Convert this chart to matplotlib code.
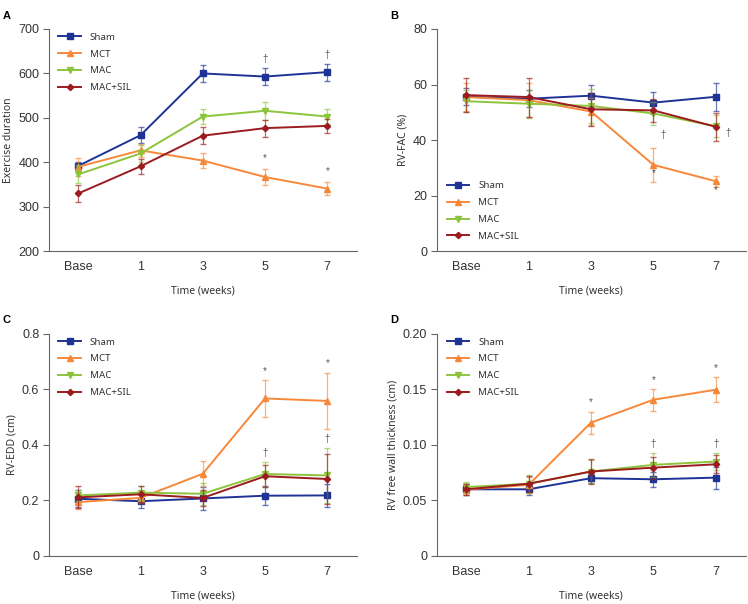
import numpy as np
import matplotlib.pyplot as plt

plt.rcParams['font.family'] = ['Liberation Sans', 'DejaVu Sans']

times = ['Base', '1', '3', '5', '7']
groups = ['Sham', 'MCT', 'MAC', 'MAC+SIL']
colors = ['#1f3396', '#f7883a', '#8cc43c', '#9b1b1e']
markers = ['s', '^', 'v', 'D']
msizes = [5, 5, 5, 3.2]

# panel A: exercise duration
ex_mean = [[392, 461, 600, 593, 603],
           [390, 427, 404, 367, 341],
           [373, 420, 503, 516, 503],
           [330, 391, 460, 477, 482]]
ex_err = [[8, 18, 20, 19, 19],
          [20, 15, 17, 18, 15],
          [20, 20, 17, 20, 17],
          [20, 17, 19, 19, 16]]

# panel B: RV-FAC
fac_mean = [[55.6, 54.9, 56.0, 53.5, 55.6],
            [55.5, 54.4, 50.3, 31.1, 25.2],
            [54.0, 53.1, 52.3, 49.6, 45.0],
            [56.2, 55.5, 51.1, 50.7, 44.8]]
fac_err = [[3, 3, 4, 4, 5],
           [5, 6, 5, 6, 2],
           [4, 5, 6, 4, 4],
           [6, 7, 6, 4, 5]]

# panel C: RV-EDD
edd_mean = [[0.206, 0.197, 0.207, 0.217, 0.218],
            [0.194, 0.209, 0.296, 0.567, 0.558],
            [0.218, 0.228, 0.224, 0.295, 0.290],
            [0.211, 0.222, 0.209, 0.287, 0.277]]
edd_err = [[0.03, 0.025, 0.04, 0.035, 0.04],
           [0.025, 0.02, 0.045, 0.065, 0.1],
           [0.02, 0.025, 0.04, 0.045, 0.1],
           [0.04, 0.03, 0.03, 0.04, 0.09]]

# panel D: RV free wall thickness
fw_mean = [[0.060, 0.060, 0.070, 0.069, 0.0705],
           [0.0597, 0.064, 0.120, 0.1406, 0.1496],
           [0.062, 0.065, 0.076, 0.082, 0.085],
           [0.060, 0.065, 0.076, 0.0795, 0.0825]]
fw_err = [[0.005, 0.005, 0.004, 0.007, 0.01],
          [0.005, 0.007, 0.01, 0.01, 0.011],
          [0.005, 0.008, 0.01, 0.011, 0.008],
          [0.005, 0.007, 0.011, 0.01, 0.008]]

# significance marks: (x index, y value, symbol, x offset)
marks_a = [(3, 633, '†', 0), (4, 641, '†', 0), (3, 409, '*', 0), (4, 381, '*', 0)]
marks_b = [(3, 42.0, '†', 0.15), (4, 42.6, '†', 0.2), (3, 28.0, '*', 0), (4, 22.2, '*', 0)]
marks_c = [(3, 0.665, '*', 0), (4, 0.693, '*', 0), (3, 0.372, '†', 0), (4, 0.422, '†', 0)]
marks_d = [(2, 0.1385, '*', 0), (3, 0.158, '*', 0), (4, 0.169, '*', 0),
           (3, 0.101, '†', 0), (4, 0.101, '†', 0)]

fig = plt.figure(figsize=(7.48, 6.04), dpi=100)
ax_a = fig.add_axes([0.0655, 0.584, 0.412, 0.368])
ax_b = fig.add_axes([0.584, 0.584, 0.413, 0.368])
ax_c = fig.add_axes([0.0655, 0.0795, 0.412, 0.368])
ax_d = fig.add_axes([0.584, 0.0795, 0.413, 0.368])

panels = [
    (ax_a, ex_mean, ex_err, marks_a, 'Exercise duration', (200, 700), [200, 300, 400, 500, 600, 700], None, 'A', 'upper left', (0.018, 1.0)),
    (ax_b, fac_mean, fac_err, marks_b, 'RV-FAC (%)', (0, 80), [0, 20, 40, 60, 80], None, 'B', 'lower left', (0.02, 0.03)),
    (ax_c, edd_mean, edd_err, marks_c, 'RV-EDD (cm)', (0, 0.8), [0, 0.2, 0.4, 0.6, 0.8], ['0', '0.2', '0.4', '0.6', '0.8'], 'C', 'upper left', (0.018, 1.0)),
    (ax_d, fw_mean, fw_err, marks_d, 'RV free wall thickness (cm)', (0, 0.2), [0, 0.05, 0.10, 0.15, 0.20], ['0', '0.05', '0.10', '0.15', '0.20'], 'D', 'upper left', (0.02, 1.0)),
]

label_font = ['Noto Sans', 'DejaVu Sans']
x = np.arange(len(times))
for ax, means, errs, marks, ylab, ylim, yticks, yticklabels, letter, loc, anchor in panels:
    handles = []
    for i, g in enumerate(groups):
        ax.errorbar(x, means[i], yerr=errs[i], fmt='none', ecolor=colors[i],
                    elinewidth=0.9, capsize=2, alpha=0.65, zorder=2 + i)
        ln, = ax.plot(x, means[i], color=colors[i], marker=markers[i],
                      markersize=msizes[i], linewidth=1.4, label=g, zorder=3 + i)
        handles.append(ln)
    for xi, yv, s, off in marks:
        ax.text(xi + off, yv, s, ha='center', va='center', fontsize=7, color='#555555')
    ax.set_xlim(-0.47, 4.48)
    ax.set_ylim(*ylim)
    ax.set_yticks(yticks)
    if yticklabels:
        ax.set_yticklabels(yticklabels)
    ax.set_xticks(x)
    ax.set_xticklabels(times)
    ax.spines['top'].set_visible(False)
    ax.spines['right'].set_visible(False)
    for sp in ['left', 'bottom']:
        ax.spines[sp].set_color('#666666')
        ax.spines[sp].set_linewidth(0.8)
    ax.tick_params(axis='y', length=4, width=0.8, color='#666666', labelsize=9, labelcolor='#333333', pad=3)
    ax.tick_params(axis='x', length=0, pad=7, labelsize=9, labelcolor='#333333')
    ax.set_xlabel('Time (weeks)', fontsize=7.5, color='#333333', labelpad=9, family=label_font)
    ax.set_ylabel(ylab, fontsize=7.5, color='#333333', labelpad=3, family=label_font)
    leg = ax.legend(handles=handles, loc=loc, bbox_to_anchor=anchor, frameon=False,
                    handlelength=2.3, labelspacing=0.8, borderaxespad=0.0,
                    handletextpad=0.9, prop={'family': label_font, 'size': 7})
    for t in leg.get_texts():
        t.set_color('#333333')
    ax.text(-0.15, 1.06, letter, transform=ax.transAxes, fontsize=8, fontweight='bold',
            ha='left', va='center')

fig.savefig('out.png', dpi=100)
